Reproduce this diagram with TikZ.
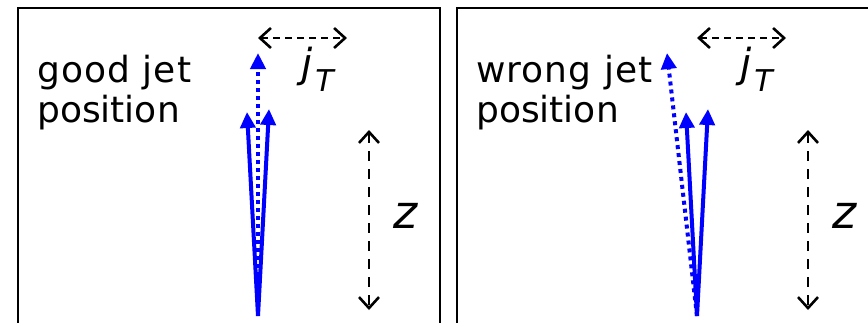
\documentclass[tikz,border=0pt]{standalone}
\usepackage{fontspec}
\setmainfont{DejaVu Sans}
\newfontfamily\wordfont[LetterSpace=3]{DejaVu Sans}
\usetikzlibrary{arrows.meta,positioning}
\definecolor{jet}{HTML}{0000FF}
\tikzset{
  frame/.style={draw=black,line width=2pt},
  jetline/.style={jet,line width=4pt,-{Triangle[length=16pt,width=15pt]}},
  jetdots/.style={jetline,dash pattern=on 4pt off 4pt},
  measure/.style={black,line width=2.6pt,{Straight Barb[length=11pt,width=20pt]}-{Straight Barb[length=11pt,width=20pt]}},
  lbl/.style={inner sep=0pt,font=\fontsize{36}{40}\selectfont}
}

\begin{document}
\begin{tikzpicture}[x=1pt,y=-1pt]
\clip (0,0) rectangle (868,322);
\foreach \dx/\word/\lean/\p in {0/good/0/L,439/wrong/-30/R}{
\begin{scope}[xshift=\dx pt]
\draw[frame] (18,8) rectangle (439.5,340);
\coordinate (o\p) at (258,316);
\coordinate (l\p) at (247,112);
\coordinate (r\p) at (269,109);
\coordinate (d\p) at (258+\lean,53);
\draw[jetdots] (o\p) -- (d\p);
\draw[jetline] (o\p) -- (l\p);
\draw[jetline] (o\p) -- (r\p);
\coordinate (ja\p) at (258,38); \coordinate (jb\p) at (347,38);
\draw[measure,dash pattern=on 7pt off 5pt] (ja\p) -- (jb\p);
\coordinate (za\p) at (369,130); \coordinate (zb\p) at (369,310);
\draw[measure,dash pattern=on 10pt off 8pt] (za\p) -- (zb\p);
\node[lbl,align=left,anchor=north west] (txt\p) at (37,55) {\wordfont\word{} jet\\position};
\node[lbl,font=\fontsize{40}{40}\selectfont,anchor=base west] (jt\p) at (301,77) {\itshape j\kern3pt\raisebox{-14pt}{\fontsize{30}{30}\selectfont T}};
\node[lbl,font=\fontsize{46}{46}\selectfont\itshape,anchor=base west] (z\p) at (393,228) {z};
\end{scope}}
\end{tikzpicture}
\end{document}
